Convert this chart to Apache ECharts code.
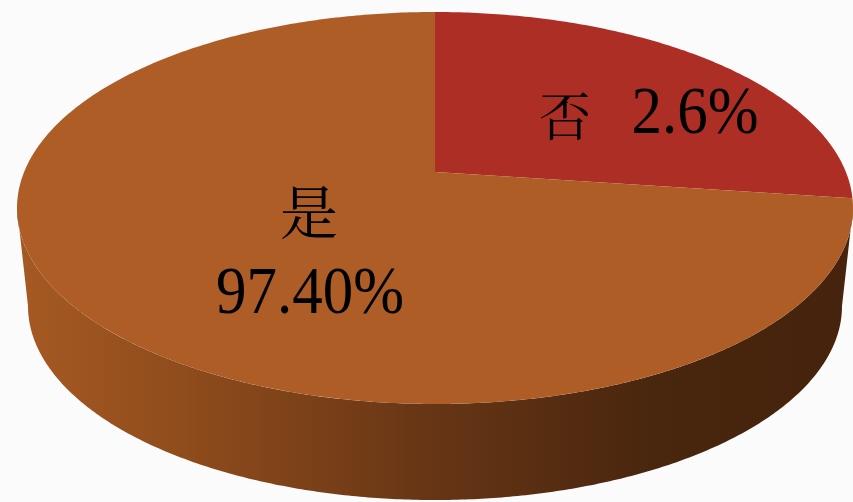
<!DOCTYPE html>
<html><head><meta charset="utf-8">
<style>html,body{margin:0;padding:0;background:#fbfbfb}#c{width:853px;height:502px}</style>
<script src="https://cdn.jsdelivr.net/npm/echarts@6/dist/echarts.min.js"></script></head>
<body><div id="c"></div>
<script>
// Data
const categories = ['否', '是'];
const valueLabels = ['2.6%', '97.40%'];
// Share of the disc each slice occupies as drawn in the picture (percent)
const drawnShares = [24.2, 75.8];
const sliceColors = ['#ad2e24', '#ae5d27'];

// Layout of the tilted disc
const top3d = {cx: 435, cy: 208, rx: 418, ry: 196, apexX: 435, apexY: 172};
const bottom3d = {cx: 435, cy: 306, rx: 407, ry: 194};
const catPos = [[565, 116, 52], [309, 212, 58]];
const valPos = [[695, 115], [310, 295]];
const FONT = '"Liberation Serif","Noto Serif CJK TC",serif';
const CJK = '"Noto Serif CJK TC","Noto Sans CJK TC",serif';

const ellipsePt = (e, t) => [e.cx + e.rx * Math.sin(t), e.cy - e.ry * Math.cos(t)];
function arc(e, a, b) {
  const pts = [], n = Math.ceil(Math.abs(b - a) / 0.01);
  for (let i = 0; i <= n; i++) pts.push(ellipsePt(e, a + (b - a) * i / n));
  return pts;
}
const total = drawnShares.reduce((s, v) => s + v, 0);

function renderWall() {
  const pts = arc(top3d, Math.PI / 2, Math.PI * 1.5).concat(arc(bottom3d, Math.PI * 1.5, Math.PI / 2));
  return {
    type: 'polygon', shape: {points: pts}, silent: true,
    style: {fill: new echarts.graphic.LinearGradient(0, 0, 1, 0, [
      {offset: 0, color: '#a65a22'},
      {offset: 0.2, color: '#8f4c1c'},
      {offset: 0.5, color: '#663515'},
      {offset: 0.76, color: '#49260e'},
      {offset: 1, color: '#45230c'}
    ])}
  };
}

function renderSlice(params, api) {
  const i = params.dataIndex;
  let before = 0;
  for (let k = 0; k < i; k++) before += drawnShares[k];
  const a = before / total * Math.PI * 2;
  const b = (before + api.value(0)) / total * Math.PI * 2;
  const pts = [[top3d.apexX, top3d.apexY]].concat(arc(top3d, a, b));
  return {
    type: 'group', silent: true,
    children: [
      {type: 'polygon', shape: {points: pts}, style: {fill: sliceColors[i]}},
      {type: 'text', z2: 5, style: {
        text: categories[i], x: catPos[i][0], y: catPos[i][1],
        font: 'normal ' + catPos[i][2] + 'px ' + CJK,
        fill: '#000', align: 'center', verticalAlign: 'middle'}},
      {type: 'text', z2: 5, x: valPos[i][0], y: valPos[i][1], scaleY: 1.12, style: {
        text: valueLabels[i], x: 0, y: 0,
        font: 'normal 61px ' + FONT,
        fill: '#000', align: 'center', verticalAlign: 'middle'}}
    ]
  };
}

const chart = echarts.init(document.getElementById('c'), null, {renderer: 'canvas'});
chart.setOption({
  animation: false,
  backgroundColor: '#fbfbfb',
  series: [
    {type: 'custom', coordinateSystem: 'none', silent: true, z: 1, renderItem: renderWall, data: [[1]]},
    {type: 'custom', coordinateSystem: 'none', silent: true, z: 2, renderItem: renderSlice,
      data: drawnShares.map(v => [v])}
  ]
});
</script></body></html>
